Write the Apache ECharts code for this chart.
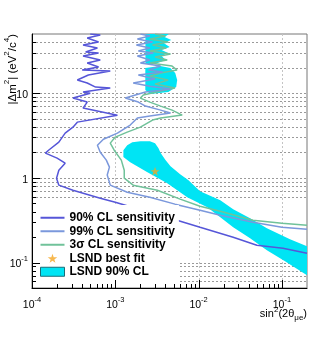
<!DOCTYPE html>
<html><head><meta charset="utf-8">
<script src="https://cdn.jsdelivr.net/npm/echarts@6/dist/echarts.min.js"></script>
<style>html,body{margin:0;padding:0;background:#fff}#c{width:315px;height:339px}</style>
</head><body><div id="c"></div>
<script>
const FONT = 'Liberation Sans, Arial, Helvetica, sans-serif';
// contours: [sin^2(2θ), |Δm^2| (eV^2/c^4)]
const cl90 = [[5.0e-4,50],[6.6e-4,48.7],[4.6e-4,44.9],[6.3e-4,40.2],[4.1e-4,37.1],[6.1e-4,34.1],[4.4e-4,30.6],[6.3e-4,29.8],[4.1e-4,27.5],[6.6e-4,24.6],[4.6e-4,22.7],[6.3e-4,20.4],[4.0e-4,18.8],[8.7e-4,18.3],[4.75e-4,16.4],[3.5e-4,14.3],[4.6e-4,13.2],[5.8e-4,11.8],[8.7e-4,11.5],[4.1e-4,10.3],[5.0e-4,10.0],[3.1e-4,8.75],[4.6e-4,7.85],[4.1e-4,6.67],[1.06e-3,5.5],[3.5e-4,4.55],[3.1e-4,3.97],[2.5e-4,3.37],[2.1e-4,2.64],[1.58e-4,2.12],[1.45e-4,1.96],[2.0e-4,1.71],[2.5e-4,1.49],[2.1e-4,1.23],[1.97e-4,0.99],[2.1e-4,0.82],[3.1e-4,0.715],[6.6e-4,0.575],[1.0e-3,0.515],[2.3e-3,0.404],[5.5e-3,0.316],[1.04e-2,0.261],[2.6e-2,0.199],[5.0e-2,0.16],[0.103,0.147],[0.2,0.129]];
const cl99 = [[2.0e-3,50],[2.6e-3,47.3],[1.84e-3,43.6],[2.8e-3,40.2],[1.79e-3,37.1],[2.6e-3,34.1],[1.89e-3,31.5],[2.86e-3,29.8],[1.84e-3,27.5],[2.6e-3,24.6],[2.0e-3,22.7],[3.5e-3,20.9],[2.5e-3,18.8],[3.7e-3,17.8],[1.89e-3,16.4],[3.0e-3,14.7],[1.64e-3,13.2],[2.6e-3,12.1],[4.6e-3,11.2],[2.3e-3,10.3],[1.32e-3,8.75],[1.89e-3,7.85],[2.3e-3,7.04],[3.5e-3,6.31],[4.6e-3,5.82],[2.6e-3,5.36],[1.84e-3,5.08],[1.51e-3,4.2],[1.06e-3,3.37],[7.2e-4,2.86],[6.1e-4,2.43],[6.6e-4,2.01],[7.8e-4,1.62],[8.5e-4,1.34],[8.0e-4,1.08],[8.7e-4,0.82],[1.39e-3,0.677],[2.6e-3,0.591],[5.2e-3,0.489],[1.04e-2,0.415],[1.82e-2,0.362],[4.5e-2,0.299],[0.1,0.261],[0.2,0.247]];
const sig3 = [[3.0e-3,50],[4.0e-3,47.3],[2.6e-3,43.6],[4.3e-3,40.2],[2.8e-3,37.1],[4.1e-3,34.1],[2.6e-3,31.5],[4.6e-3,29.0],[3.0e-3,26.7],[4.2e-3,24.6],[2.6e-3,22.7],[4.8e-3,20.9],[5.5e-3,18.8],[3.5e-3,17.3],[2.6e-3,15.9],[4.3e-3,14.3],[3.0e-3,12.8],[5.2e-3,11.5],[3.5e-3,10.6],[2.17e-3,9.5],[2.0e-3,8.75],[2.6e-3,7.85],[3.5e-3,7.04],[4.8e-3,6.31],[6.35e-3,5.51],[3.5e-3,5.08],[2.8e-3,4.81],[2.0e-3,3.97],[1.39e-3,3.47],[1.0e-3,3.03],[8.7e-4,2.57],[9.7e-4,2.12],[1.18e-3,1.62],[1.28e-3,1.23],[1.28e-3,0.99],[1.64e-3,0.82],[3.2e-3,0.715],[6.0e-3,0.56],[1.04e-2,0.462],[1.82e-2,0.404],[4.5e-2,0.316],[0.1,0.291],[0.2,0.275]];
const lsndBand = [[1.25e-3,2.12],[1.39e-3,2.43],[1.6e-3,2.64],[2.0e-3,2.71],[2.6e-3,2.71],[3.0e-3,2.57],[3.3e-3,2.24],[3.5e-3,1.96],[4.0e-3,1.62],[4.6e-3,1.37],[6.0e-3,1.1],[7.5e-3,0.94],[1.04e-2,0.696],[1.82e-2,0.545],[2.6e-2,0.426],[4.15e-2,0.333],[6.6e-2,0.254],[0.125,0.188],[0.2,0.156],[0.2,0.0706],[0.109,0.1035],[6.6e-2,0.14],[4.15e-2,0.194],[2.6e-2,0.261],[1.82e-2,0.343],[1.27e-2,0.45],[7.3e-3,0.591],[4.2e-3,0.865],[2.4e-3,1.17],[1.51e-3,1.53],[1.25e-3,1.76]];
const lsndTop = [[2.3e-3,50],[4.4e-3,50],[3.9e-3,46.1],[4.7e-3,42.5],[3.8e-3,39.2],[4.5e-3,35.1],[3.6e-3,32.4],[4.3e-3,29.8],[3.6e-3,27.5],[4.0e-3,24.6],[3.0e-3,22.1],[2.3e-3,22.1]];
const lsndMid = [[2.29e-3,19.8],[3.47e-3,20.9],[4.57e-3,19.8],[5.24e-3,17.3],[5.53e-3,14.3],[5.38e-3,11.8],[4.33e-3,10.3],[2.63e-3,9.76],[2.29e-3,10.9]];
const bestFit = [[3.0e-3, 1.2]];
const names = ['90% CL sensitivity','99% CL sensitivity','3σ CL sensitivity','LSND best fit','LSND 90% CL'];
const xRange = [1e-4, 0.2];
const yRange = [0.05, 50];
const xMajorTicks = [1e-4,1e-3,1e-2,1e-1];
const xMinorTicks = [2e-4,3e-4,4e-4,5e-4,6e-4,7e-4,8e-4,9e-4,2e-3,3e-3,4e-3,5e-3,6e-3,7e-3,8e-3,9e-3,2e-2,3e-2,4e-2,5e-2,6e-2,7e-2,8e-2,9e-2];
const yMajorTicks = [0.1,1,10];
const yMinorTicks = [0.06,0.07,0.08,0.09,0.2,0.3,0.4,0.5,0.6,0.7,0.8,0.9,2,3,4,5,6,7,8,9,20,30,40];
const hGrid = [40,30,20,10,9,8,7,6,5,4,3,2,1,0.9,0.8,0.7,0.6,0.1,0.09,0.08,0.07,0.06];
const vGrid = [1e-3,1e-2,1e-1];

const C90='#5656d8', C99='#7b98dc', C3S='#70c29a', CYAN='#00e4f4', ORANGE='#f5a623';
const STAR='path://M50,0 L61.8,35.3 L98,35.3 L68.8,57.1 L79.4,91 L50,70 L20.6,91 L31.2,57.1 L2,35.3 L38.2,35.3 Z';
const LINEICON='path://M0,0 L24,0 L24,2 L0,2 Z';
const lsndPolys=[lsndBand, lsndTop, lsndMid];

function decade(v){const e=Math.log10(v);const r=Math.round(e);return Math.abs(e-r)<1e-6?r:null;}
const richLab={b:{fontSize:10.5,fontFamily:FONT,color:'#000',lineHeight:15,verticalAlign:'bottom'},s:{fontSize:7.5,fontFamily:FONT,color:'#000',lineHeight:9,verticalAlign:'top'}};
const px=v=>Math.round(v)+0.5;

const chart=echarts.init(document.getElementById('c'),null,{renderer:'canvas'});
chart.setOption({
  animation:false,
  backgroundColor:'#fff',
  grid:{left:32,right:8,top:34,bottom:51,show:true,borderColor:'#777',borderWidth:1,containLabel:false,outerBoundsMode:'none'},
  xAxis:{type:'log',logBase:10,min:xRange[0],max:xRange[1],axisLine:{lineStyle:{color:'#000',width:1}},axisTick:{show:false},splitLine:{show:false},minorTick:{show:false},
    axisLabel:{margin:8,showMinLabel:true,showMaxLabel:true,hideOverlap:false,formatter:v=>{const e=decade(v);return e===null?'':'{b|10}{s|'+e+'}';},rich:richLab}},
  yAxis:{type:'log',logBase:10,min:yRange[0],max:yRange[1],axisLine:{lineStyle:{color:'#000',width:1}},axisTick:{show:false},splitLine:{show:false},minorTick:{show:false},
    axisLabel:{margin:4,showMinLabel:true,showMaxLabel:true,hideOverlap:false,formatter:v=>{const e=decade(v);if(e===null)return '';if(e===0)return '{b|1}';if(e===1)return '{b|10}';return '{b|10}{s|'+e+'}';},rich:richLab}},
  legend:{orient:'vertical',left:33,top:205,padding:[6,4,4,7],itemGap:0,itemWidth:24,itemHeight:9,backgroundColor:'#fff',z:10,selectedMode:false,
    textStyle:{fontFamily:FONT,fontSize:12,fontWeight:'bold',color:'#000',lineHeight:13.5},
    data:[{name:names[0],icon:LINEICON,itemStyle:{color:C90}},{name:names[1],icon:LINEICON,itemStyle:{color:C99}},{name:names[2],icon:LINEICON,itemStyle:{color:C3S}},
      {name:names[3],icon:STAR,itemStyle:{color:ORANGE}},
      {name:names[4],icon:'rect',itemStyle:{color:CYAN,borderColor:'#1b6d78',borderWidth:1}}]},
  graphic:[
    {type:'text',x:11,y:34,rotation:Math.PI/2,style:{text:'{n||Δm}{s|2}{n|| (eV}{s|2}{n|/c}{s|4}{n|)}',align:'right',verticalAlign:'middle',
      rich:{n:{fontSize:11.5,fontFamily:FONT,fill:'#000',lineHeight:16,verticalAlign:'bottom'},s:{fontSize:8,fontFamily:FONT,fill:'#000',lineHeight:10,verticalAlign:'top'}}}},
    {type:'text',x:307,y:314,style:{text:'{n|sin}{s|2}{n|(2θ}{u|μe}{n|)}',align:'right',verticalAlign:'middle',
      rich:{n:{fontSize:11,fontFamily:FONT,fill:'#000',lineHeight:16,verticalAlign:'middle'},s:{fontSize:8,fontFamily:FONT,fill:'#000',lineHeight:8,verticalAlign:'top'},u:{fontSize:8,fontFamily:FONT,fill:'#000',lineHeight:8,verticalAlign:'bottom'}}}}
  ],
  series:[
    {type:'custom',silent:true,z:1,clip:true,data:hGrid.map(v=>[xRange[0],v]),
      renderItem:(p,api)=>{const a=api.coord([xRange[0],api.value(1)]);const b=api.coord([xRange[1],api.value(1)]);const y=px(a[1]);
        return {type:'line',shape:{x1:a[0],y1:y,x2:b[0],y2:y},style:{stroke:'#9a9a9a',lineWidth:1,lineDash:[2,2]}};}},
    {type:'custom',silent:true,z:1,clip:true,data:vGrid.map(v=>[v,yRange[0]]),
      renderItem:(p,api)=>{const a=api.coord([api.value(0),yRange[0]]);const b=api.coord([api.value(0),yRange[1]]);const x=px(a[0]);
        return {type:'line',shape:{x1:x,y1:a[1],x2:x,y2:b[1]},style:{stroke:'#c4c4c4',lineWidth:1,lineDash:[2,2]}};}},
    {name:names[4],type:'custom',z:2,clip:true,silent:true,itemStyle:{color:CYAN},data:lsndPolys.map((pl,i)=>[pl[0][0],pl[0][1],i]),
      renderItem:(p,api)=>{const pl=lsndPolys[api.value(2)];return {type:'polygon',shape:{points:pl.map(q=>api.coord(q))},style:{fill:CYAN}};}},
    {name:names[2],type:'line',z:3,silent:true,symbol:'none',showSymbol:false,data:sig3,lineStyle:{color:C3S,width:1.5},itemStyle:{color:C3S}},
    {name:names[1],type:'line',z:3,silent:true,symbol:'none',showSymbol:false,data:cl99,lineStyle:{color:C99,width:1.5},itemStyle:{color:C99}},
    {name:names[0],type:'line',z:3,silent:true,symbol:'none',showSymbol:false,data:cl90,lineStyle:{color:C90,width:1.5},itemStyle:{color:C90}},
    {name:names[3],type:'scatter',z:4,silent:true,symbol:STAR,symbolSize:9,data:bestFit,itemStyle:{color:ORANGE}},
    {type:'custom',silent:true,z:20,clip:false,data:xMajorTicks.map(v=>[v,yRange[0],8]).concat(xMinorTicks.map(v=>[v,yRange[0],4])),
      renderItem:(p,api)=>{const a=api.coord([api.value(0),yRange[0]]);const x=px(a[0]);return {type:'line',shape:{x1:x,y1:a[1],x2:x,y2:a[1]-api.value(2)},style:{stroke:'#000',lineWidth:1}};}},
    {type:'custom',silent:true,z:20,clip:false,data:yMajorTicks.map(v=>[xRange[0],v,8]).concat(yMinorTicks.map(v=>[xRange[0],v,4])),
      renderItem:(p,api)=>{const a=api.coord([xRange[0],api.value(1)]);const y=px(a[1]);return {type:'line',shape:{x1:a[0],y1:y,x2:a[0]+api.value(2),y2:y},style:{stroke:'#000',lineWidth:1}};}}
  ]
});
</script></body></html>
